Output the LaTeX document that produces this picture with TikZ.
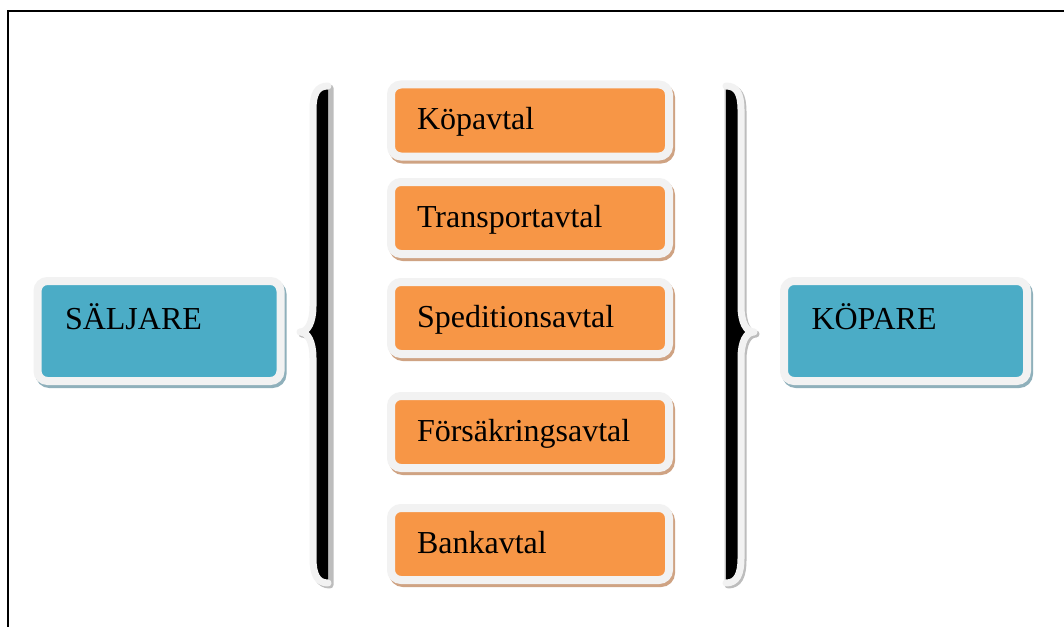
\documentclass[tikz,border=0pt]{standalone}
\usepackage{fontspec}
\setmainfont{Liberation Serif}
\usetikzlibrary{shadows}
\definecolor{orangefill}{HTML}{F79646}
\definecolor{bluefill}{HTML}{4BACC6}
\definecolor{rimgray}{HTML}{F2F2F2}
\definecolor{orangeshadow}{HTML}{CFA383}
\definecolor{blueshadow}{HTML}{8FB0BB}
\definecolor{braceshadow}{HTML}{BDBDBD}
\tikzset{
  boxbase/.style={rectangle, rounded corners=5pt, draw=rimgray, line width=4pt,
    align=left, font=\fontsize{16pt}{19pt}\selectfont, inner ysep=0pt},
  orangebox/.style={boxbase, fill=orangefill,
    drop shadow={shadow xshift=1pt, shadow yshift=-1.5pt, opacity=1, fill=orangeshadow, draw=orangeshadow, line width=4pt},
    minimum width=139pt, text width=113pt, inner xsep=13pt, minimum height=36pt,
    text height=11.5pt, text depth=2.5pt},
  bluebox/.style={boxbase, fill=bluefill,
    drop shadow={shadow xshift=1pt, shadow yshift=-1.5pt, opacity=1, fill=blueshadow, draw=blueshadow, line width=4pt},
    minimum width=121.5pt, text width=94pt, inner xsep=13.75pt, minimum height=50pt,
    text height=11.5pt, text depth=13.5pt},
  bracefill/.style={fill=black},
  bracerim/.style={draw=rimgray, line width=3.5pt, line join=round, line cap=round},
  braceshade/.style={fill=braceshadow, draw=braceshadow, line width=3.5pt, line join=round, line cap=round},
  frameline/.style={draw=black, line width=1pt}
}
\begin{document}
\begin{tikzpicture}[x=0.5pt,y=-0.5pt]
\useasboundingbox (0,0) rectangle (1064,626);
\clip (0,0) rectangle (1064,626);
\fill[white] (0,0) rectangle (1064,626);
% frame
\coordinate (fbl) at (8,640);
\coordinate (ftl) at (8,11);
\coordinate (ftr) at (1080,11);
\draw[frameline] (fbl) -- (ftl) -- (ftr);

% left brace
\begin{scope}[shift={(2,2)}]
\path[braceshade] (328,86) .. controls (317,86) and (313,94) .. (313,110) -- (313,306) .. controls (313,322) and (308,332) .. (300,332) .. controls (308,332) and (313,342) .. (313,358) -- (313,558) .. controls (313,574) and (317,583) .. (328,583) -- cycle;
\end{scope}
\path[bracefill] (328,86) .. controls (317,86) and (313,94) .. (313,110) -- (313,306) .. controls (313,322) and (308,332) .. (300,332) .. controls (308,332) and (313,342) .. (313,358) -- (313,558) .. controls (313,574) and (317,583) .. (328,583) -- cycle;
\path[bracerim] (328,86) .. controls (317,86) and (313,94) .. (313,110) -- (313,306) .. controls (313,322) and (308,332) .. (300,332) .. controls (308,332) and (313,342) .. (313,358) -- (313,558) .. controls (313,574) and (317,583) .. (328,583);

% right brace
\begin{scope}[shift={(2,2)}]
\path[braceshade] (726,86) .. controls (737,86) and (741,94) .. (741,110) -- (741,306) .. controls (741,322) and (746,332) .. (754,332) .. controls (746,332) and (741,342) .. (741,358) -- (741,558) .. controls (741,574) and (737,583) .. (726,583) -- cycle;
\end{scope}
\path[bracefill] (726,86) .. controls (737,86) and (741,94) .. (741,110) -- (741,306) .. controls (741,322) and (746,332) .. (754,332) .. controls (746,332) and (741,342) .. (741,358) -- (741,558) .. controls (741,574) and (737,583) .. (726,583) -- cycle;
\path[bracerim] (726,86) .. controls (737,86) and (741,94) .. (741,110) -- (741,306) .. controls (741,322) and (746,332) .. (754,332) .. controls (746,332) and (741,342) .. (741,358) -- (741,558) .. controls (741,574) and (737,583) .. (726,583);

% boxes
\node[orangebox] (kopavtal) at (530,120.5) {Köpavtal};
\node[orangebox] (transport) at (530,218) {Transportavtal};
\node[orangebox] (spedition) at (530,318) {Speditionsavtal};
\node[orangebox] (forsakring) at (530,432) {Försäkringsavtal};
\node[orangebox] (bank) at (530,544) {Bankavtal};

\node[bluebox] (saljare) at (159,331) {SÄLJARE};
\node[bluebox] (kopare) at (905.5,331) {KÖPARE};
\end{tikzpicture}
\end{document}
